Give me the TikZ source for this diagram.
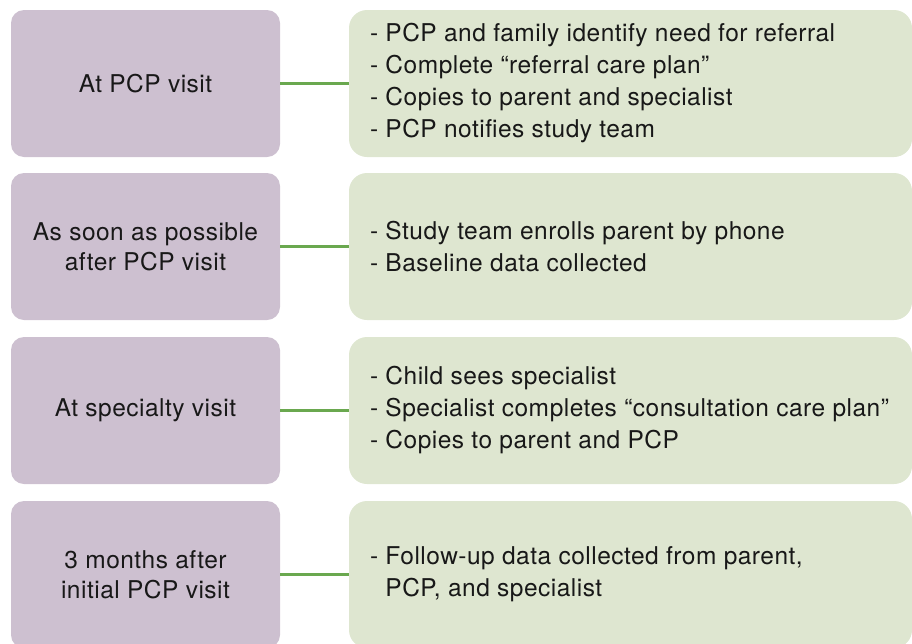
\documentclass[tikz,border=0pt]{standalone}
\usepackage{fontspec}
\setmainfont{TeX Gyre Heros}[LetterSpace=2]
\usetikzlibrary{calc, positioning}

\definecolor{stagefill}{RGB}{205,192,208}
\definecolor{notefill}{RGB}{222,230,208}
\definecolor{linkgreen}{RGB}{106,168,79}
\definecolor{inkgray}{RGB}{24,24,24}

\begin{document}
\begin{tikzpicture}[
		x=1pt, y=-1pt,
		stage/.style={fill=stagefill, rounded corners=13pt, minimum width=269pt, minimum height=147pt,
			inner sep=0pt, align=center, text=inkgray, font=\fontsize{24.5}{30}\selectfont},
		notes/.style={fill=notefill, rounded corners=18pt, minimum width=563pt, minimum height=147pt, inner sep=0pt},
		items/.style={anchor=west, align=left, inner sep=0pt, text=inkgray, font=\fontsize{24.5}{32}\selectfont},
		link/.style={draw=linkgreen, line width=3pt}
		]
		
		% page frame, the last row runs off the bottom
		\clip (0,0) rectangle (912,643);
		
		% 1. At the PCP visit
		\node[stage] (when1) at (145.5,83.5) {At PCP visit};
		\node[notes] (box1) at (630.5,83.5) {};
		\node[items] (what1) at ($(box1.west)+(21,0)$) {- PCP and family identify need for referral\\
			- Complete “referral care plan”\\
			- Copies to parent and specialist\\
			- PCP notifies study team};
		\draw[link] (when1) -- (box1);
		
		% 2. Enrollment
		\node[stage] (when2) at (145.5,246.5) {As soon as possible\\after PCP visit};
		\node[notes] (box2) at (630.5,246.5) {};
		\node[items] (what2) at ($(box2.west)+(21,0)$) {- Study team enrolls parent by phone\\
			- Baseline data collected};
		\draw[link] (when2) -- (box2);
		
		% 3. Specialty visit
		\node[stage] (when3) at (145.5,410.5) {At specialty visit};
		\node[notes] (box3) at (630.5,410.5) {};
		\node[items] (what3) at ($(box3.west)+(21,0)$) {- Child sees specialist\\
			- Specialist completes “consultation care plan”\\
			- Copies to parent and PCP};
		\draw[link] (when3) -- (box3);
		
		% 4. Follow-up
		\node[stage] (when4) at (145.5,574.5) {3 months after\\initial PCP visit};
		\node[notes] (box4) at (630.5,574.5) {};
		\node[items] (what4) at ($(box4.west)+(21,0)$) {- Follow-up data collected from parent,\\
			\phantom{- }PCP, and specialist};
		\draw[link] (when4) -- (box4);
		
	\end{tikzpicture}
\end{document}
